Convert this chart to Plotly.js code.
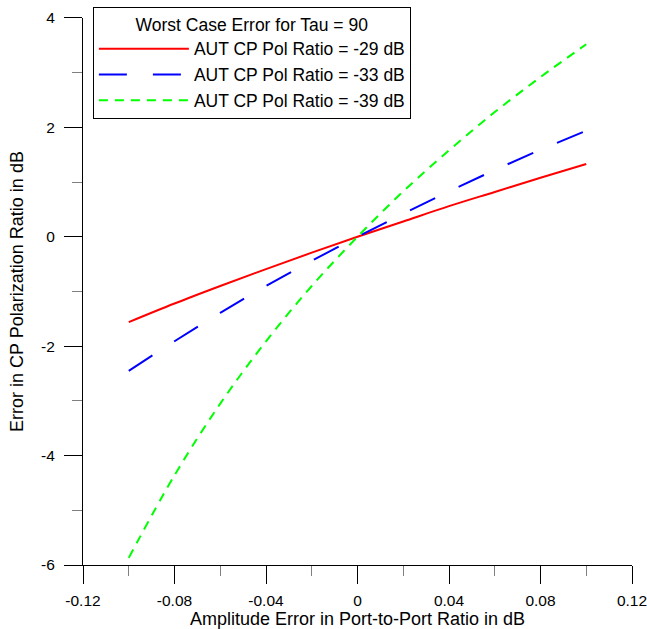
<!DOCTYPE html>
<html><head><meta charset="utf-8">
<script src="https://cdn.plot.ly/plotly-3.0.1.min.js"></script>
<style>html,body{margin:0;padding:0;background:#fff}</style>
</head><body>
<div id="chart" style="width:647px;height:629px"></div>
<script>
const amplitudeError = [-0.1, -0.08, -0.06, -0.04, -0.02, 0, 0.02, 0.04, 0.06, 0.08, 0.1];
const errRatio29 = [-1.56, -1.22, -0.90, -0.59, -0.29, 0, 0.28, 0.56, 0.82, 1.08, 1.33];
const errRatio33 = [-2.45, -1.91, -1.39, -0.90, -0.44, 0, 0.42, 0.83, 1.22, 1.59, 1.94];
const errRatio39 = [-5.87, -4.36, -3.05, -1.91, -0.90, 0, 0.83, 1.58, 2.28, 2.92, 3.52];
const seriesNames = ["AUT CP Pol Ratio = -29 dB", "AUT CP Pol Ratio = -33 dB", "AUT CP Pol Ratio = -39 dB"];
const legendTitle = "Worst Case Error for Tau = 90";
const xTitle = "Amplitude Error in Port-to-Port Ratio in dB";
const yTitle = "Error in CP Polarization Ratio in dB";
const xTickVals = [-0.12, -0.08, -0.04, 0, 0.04, 0.08, 0.12];
const xTickText = ["-0.12", "-0.08", "-0.04", "0", "0.04", "0.08", "0.12"];
const yTickVals = [-6, -4, -2, 0, 2, 4];
const yTickText = ["-6", "-4", "-2", "0", "2", "4"];

const FONT = "Liberation Sans, Arial, sans-serif";

const traces = [
  {x: amplitudeError, y: errRatio29, name: seriesNames[0], mode: "lines",
   line: {color: "#ff0000", width: 2, shape: "spline"}},
  {x: amplitudeError, y: errRatio33, name: seriesNames[1], mode: "lines",
   line: {color: "#0000ff", width: 2, dash: "28px,26px", shape: "spline"}},
  {x: amplitudeError, y: errRatio39, name: seriesNames[2], mode: "lines",
   line: {color: "#00ff00", width: 2, dash: "9px,7px", shape: "spline"}}
];

const layout = {
  width: 647, height: 629,
  margin: {l: 83, r: 15, t: 7, b: 64},
  paper_bgcolor: "#fff", plot_bgcolor: "#fff",
  font: {family: FONT, size: 15, color: "#000"},
  showlegend: true,
  legend: {
    x: 0.018, y: 1, xanchor: "left", yanchor: "top",
    bgcolor: "#fff", bordercolor: "#000", borderwidth: 1,
    font: {family: FONT, size: 17.5, color: "#000"},
    title: {text: legendTitle, side: "top center", font: {family: FONT, size: 17.5}},
    itemwidth: 90, tracegroupgap: 0
  },
  xaxis: {
    range: [-0.1200001, 0.1200001], tickmode: "array", tickvals: xTickVals, ticktext: xTickText,
    showgrid: false, zeroline: false, showline: true, linecolor: "#000", linewidth: 1,
    ticks: "outside", ticklen: 18, tickcolor: "#000", tickwidth: 1,
    ticklabelstandoff: 3, ticklabeloverflow: "allow", automargin: false,
    minor: {dtick: 0.02, tick0: 0, ticks: "outside", ticklen: 10, tickcolor: "#808080", tickwidth: 1, showgrid: false},
    title: {text: xTitle, font: {family: FONT, size: 18}, standoff: 6},
    tickfont: {family: FONT, size: 15.5}
  },
  yaxis: {
    domain: [0, 0.9803],
    range: [-6, 4], tickmode: "array", tickvals: yTickVals, ticktext: yTickText,
    showgrid: false, zeroline: false, showline: true, linecolor: "#000", linewidth: 1,
    ticks: "outside", ticklen: 18, tickcolor: "#000", tickwidth: 1,
    ticklabelstandoff: 6, automargin: false,
    minor: {dtick: 1, tick0: 0, ticks: "outside", ticklen: 10, tickcolor: "#808080", tickwidth: 1, showgrid: false},
    title: {text: yTitle, font: {family: FONT, size: 18}, standoff: 12},
    tickfont: {family: FONT, size: 15.5}
  }
};

Plotly.newPlot("chart", traces, layout, {displayModeBar: false, staticPlot: true});
</script>
</body></html>
